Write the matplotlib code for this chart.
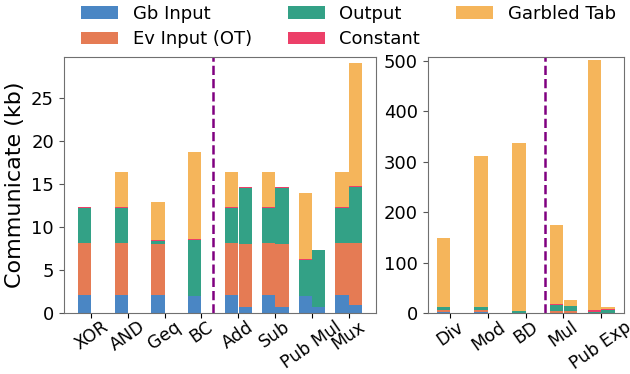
import matplotlib.pyplot as plt
import numpy as np

# left panel (small ops), two bars per op: a = first version, b = second version
cats_left = ['XOR', 'AND', 'Geq', 'BC', 'Add', 'Sub', 'Pub Mul', 'Mux']
gb_left_a = [2.05, 2.05, 2.05, 2.0, 2.05, 2.05, 2.0, 2.05]
ev_left_a = [6.14, 6.14, 6.03, 0.0, 6.14, 6.14, 0.0, 6.14]
out_left_a = [4.04, 4.04, 0.3, 6.49, 4.04, 4.04, 4.19, 4.04]
const_left_a = [0.12, 0.12, 0.15, 0.08, 0.12, 0.12, 0.15, 0.12]
gt_left_a = [0.0, 4.03, 4.39, 10.18, 4.03, 4.03, 7.62, 4.03]

gb_left_b = [0, 0, 0, 0, 0.73, 0.73, 0.73, 0.88]
ev_left_b = [0, 0, 0, 0, 7.35, 7.35, 0.0, 7.31]
out_left_b = [0, 0, 0, 0, 6.46, 6.46, 6.57, 6.51]
const_left_b = [0, 0, 0, 0, 0.08, 0.08, 0.06, 0.06]
gt_left_b = [0, 0, 0, 0, 0.0, 0.0, 0.0, 14.32]

# right panel (big ops)
cats_right = ['Div', 'Mod', 'BD', 'Mul', 'Pub Exp']
gb_right_a = [1.5, 1.5, 1.0, 0.5, 1.0]
ev_right_a = [4.0, 4.0, 0.0, 4.0, 0.0]
out_right_a = [5.5, 5.5, 2.5, 11.5, 2.0]
const_right_a = [1.5, 1.5, 1.0, 1.0, 2.5]
gt_right_a = [136.0, 298.4, 332.1, 157.3, 494.8]

gb_right_b = [0, 0, 0, 1.0, 1.0]
ev_right_b = [0, 0, 0, 4.0, 0.0]
out_right_b = [0, 0, 0, 8.0, 5.5]
const_right_b = [0, 0, 0, 1.0, 0.8]
gt_right_b = [0, 0, 0, 11.7, 3.9]

names = ['Gb Input', 'Ev Input (OT)', 'Output', 'Constant', 'Garbled Tab']
colors = ['#4a86c4', '#e57b54', '#33a186', '#ec3f68', '#f5b55b']

w = 0.36


def stack(ax, x, parts):
    bottom = np.zeros(len(x))
    bars = []
    for vals, c, n in zip(parts, colors, names):
        vals = np.array(vals, dtype=float)
        b = ax.bar(x, vals, w, bottom=bottom, color=c, label=n, linewidth=0)
        bars.append(b)
        bottom += vals
    return bars


def style(ax):
    for s in ax.spines.values():
        s.set_color('#707070')
    ax.tick_params(axis='y', labelsize=13, colors='#555555', labelcolor='black')
    ax.tick_params(axis='x', labelsize=12.5, pad=0)


fig = plt.figure(figsize=(6.3, 3.74), dpi=100)
ax1 = fig.add_axes([0.101, 0.163, 0.496, 0.6845])
ax2 = fig.add_axes([0.679, 0.163, 0.311, 0.6845])

x1 = np.arange(len(cats_left))
handles = stack(ax1, x1 - w / 2, [gb_left_a, ev_left_a, out_left_a, const_left_a, gt_left_a])
stack(ax1, x1 + w / 2 + 0.01, [gb_left_b, ev_left_b, out_left_b, const_left_b, gt_left_b])
ax1.axvline(3.3, color='purple', linestyle='--', linewidth=1.8)
ax1.set_xticks(x1)
ax1.set_xticklabels(cats_left, rotation=35, ha='center')
ax1.set_xlim(-0.75, 7.75)
ax1.set_ylim(0, 29.8)
ax1.set_yticks([0, 5, 10, 15, 20, 25])
ax1.set_ylabel('Communicate (kb)', fontsize=16)
style(ax1)

x2 = np.arange(len(cats_right))
stack(ax2, x2 - w / 2, [gb_right_a, ev_right_a, out_right_a, const_right_a, gt_right_a])
stack(ax2, x2 + w / 2 + 0.01, [gb_right_b, ev_right_b, out_right_b, const_right_b, gt_right_b])
ax2.axvline(2.5, color='purple', linestyle='--', linewidth=1.8)
ax2.set_xticks(x2)
ax2.set_xticklabels(cats_right, rotation=35, ha='center')
ax2.set_xlim(-0.6, 4.6)
ax2.set_ylim(0, 507)
ax2.set_yticks([0, 100, 200, 300, 400, 500])
style(ax2)

fig.legend(handles=handles, labels=names, loc='upper center', ncol=3,
           bbox_to_anchor=(0.553, 1.03), frameon=False, fontsize=13,
           handlelength=2.05, handletextpad=0.8, columnspacing=2.0,
           labelspacing=0.4)

fig.savefig('out.png', dpi=100)
